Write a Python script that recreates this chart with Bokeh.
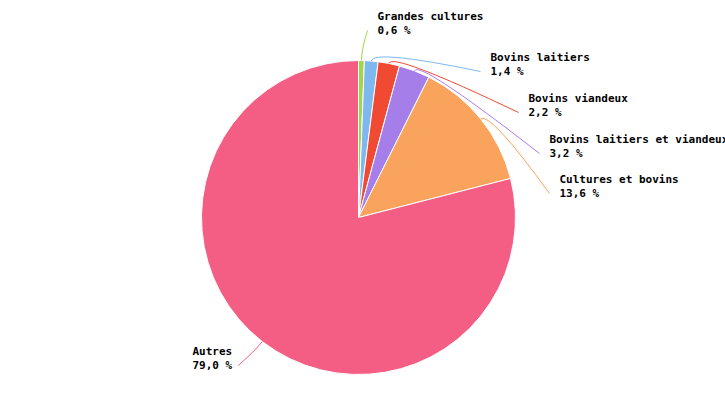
import math
from bokeh.plotting import figure
from bokeh.models import Range1d, ColumnDataSource
from bokeh.core.properties import value
from bokeh.embed import file_html
from bokeh.resources import INLINE

# Share of farms by orientation (percent)
categories = ["Grandes cultures", "Bovins laitiers", "Bovins viandeux",
              "Bovins laitiers et viandeux", "Cultures et bovins", "Autres"]
shares = [0.6, 1.4, 2.2, 3.2, 13.6, 79.0]
share_labels = ["0,6 %", "1,4 %", "2,2 %", "3,2 %", "13,6 %", "79,0 %"]
colors = ["#a3d64d", "#7fb8ee", "#f04a33", "#a67ee9", "#f9a35c", "#f45e84"]

W, H = 725, 400
CX, CY, R = 358, H - 217, 157

# label placement: (text left x, first-line baseline y in screen pixels, connector end on right side?)
label_layout = [
    (377, 20, False),
    (490, 61, False),
    (528, 102, False),
    (549, 143, False),
    (559, 183, False),
    (192, 355, True),
]
TEXT_SHIFT = 4  # glyph baseline offset of the renderer

p = figure(width=W, height=H, x_range=Range1d(0, W), y_range=Range1d(0, H),
           output_backend="svg", toolbar_location=None, min_border=0)
p.axis.visible = False
p.grid.visible = False
p.outline_line_color = None
p.background_fill_color = "white"

total = sum(shares)
starts, ends, mids = [], [], []
cum = 0.0
for s in shares:
    a0 = math.pi / 2 - 2 * math.pi * cum / total
    cum += s
    a1 = math.pi / 2 - 2 * math.pi * cum / total
    starts.append(a0)
    ends.append(a1)
    mids.append((a0 + a1) / 2)

src = ColumnDataSource(dict(start=starts, end=ends, color=colors))
p.wedge(x=CX, y=CY, radius=R, start_angle="start", end_angle="end",
        direction="clock", fill_color="color", line_color="white",
        line_width=1, source=src)

CHAR_W = 6.62
name_x, name_y, val_x, val_y = [], [], [], []
x0s, y0s, cxs, cys, x1s, y1s = [], [], [], [], [], []
for cat, lab, mid, (tx, ty, right_end) in zip(categories, share_labels, mids, label_layout):
    name_x.append(tx)
    name_y.append(H - (ty - TEXT_SHIFT))
    val_x.append(tx)
    val_y.append(H - (ty + 14 - TEXT_SHIFT))
    # connector from slice edge at mid-angle to the label
    sx = CX + R * math.cos(mid)
    sy = CY + R * math.sin(mid)
    kx = CX + (R + 12) * math.cos(mid)
    ky = CY + (R + 12) * math.sin(mid)
    if right_end:
        ex = tx + len(lab) * CHAR_W + 6
    else:
        ex = tx - 10
    ey = H - (ty + 14 - 4)
    x0s.append(sx); y0s.append(sy)
    cxs.append(kx); cys.append(ky)
    x1s.append(ex); y1s.append(ey)

p.quadratic(x0=x0s, y0=y0s, x1=x1s, y1=y1s, cx=cxs, cy=cys,
            line_color=colors, line_width=1)

font = value("DejaVu Sans Mono")
p.text(x=name_x, y=name_y, text=categories, text_font=font, text_font_size="11px",
       text_font_style="bold", text_color="#000000", text_baseline="alphabetic",
       text_align="left")
p.text(x=val_x, y=val_y, text=share_labels, text_font=font, text_font_size="11px",
       text_font_style="bold", text_color="#000000", text_baseline="alphabetic",
       text_align="left")

open("out.html", "w").write(file_html(p, INLINE))
